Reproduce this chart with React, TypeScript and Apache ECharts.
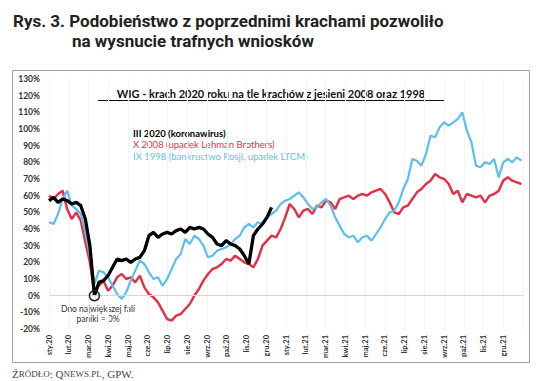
import React, { useEffect, useRef } from "react";
import * as echarts from "echarts";

const MONTHS = ["sty", "lut", "mar", "kwi", "maj", "cze", "lip", "sie", "wrz", "paź", "lis", "gru"];
const Y_TICKS_MIN = -20;
const Y_TICKS_MAX = 130;

// weekly samples starting January 2020 (index = week number), values in %
const covid2020 = [
  57, 59, 56, 58, 57, 55, 56, 54, 46, 30, 0, 8, 9, 12, 17, 22, 21, 22, 20, 22,
  23, 27, 36, 38, 35, 37, 38, 37, 39, 40, 38, 41, 40, 41, 40, 37, 35, 31, 30, 33,
  31, 30, 28, 24, 19, 36, 40, 43, 47, 53,
];
const lehman2008 = [
  60, 58, 61, 63, 52, 46, 50, 45, 32, 20, 2, 6, 9, 3, 6, 11, 13, 10, 11, 8,
  12, 5, 1, -1, -4, -9, -14, -15, -12, -11, -8, -5, 0, 4, 9, 13, 16, 17, 19, 22,
  21, 24, 22, 20, 19, 17, 22, 30, 33, 36, 35, 40, 47, 55, 52, 47, 51, 52, 49, 54,
  53, 57, 56, 52, 58, 59, 60, 58, 60, 61, 60, 62, 63, 64, 61, 56, 50, 49, 53, 54,
  58, 62, 64, 67, 69, 73, 71, 70, 67, 61, 63, 56, 61, 60, 59, 60, 56, 60, 61, 63,
  69, 71, 69, 68, 67,
];
const russia1998 = [
  44, 43, 49, 58, 63, 54, 52, 49, 38, 24, 7, 15, 14, 11, 6, 1, -2, 2, 9, 15,
  21, 19, 14, 10, 11, 6, 10, 16, 22, 25, 34, 31, 36, 34, 30, 23, 24, 27, 28, 29,
  31, 34, 36, 41, 43, 41, 44, 43, 47, 49, 51, 55, 57, 58, 60, 62, 59, 55, 52, 53,
  56, 58, 54, 47, 42, 37, 35, 36, 32, 35, 36, 33, 37, 41, 46, 50, 51, 56, 64, 70,
  82, 81, 78, 85, 96, 95, 101, 104, 102, 104, 106, 110, 99, 92, 78, 77, 80, 79, 82, 71,
  80, 82, 80, 83, 81,
];

const WEEK = 7 / 30.4375; // one week expressed in months on the x axis
const toPts = (arr: number[]) => arr.map((v, i) => [i * WEEK, v]);

export default function App() {
  const ref = useRef<HTMLDivElement>(null);
  useEffect(() => {
    if (!ref.current) return;
    const chart = echarts.init(ref.current, undefined, { renderer: "svg" });
    const axisFont = "Lato";
    chart.setOption({
      animation: false,
      backgroundColor: "#ffffff",
      grid: { left: 49, right: 13, top: 79, bottom: 52, containLabel: false },
      xAxis: {
        type: "value",
        min: 0,
        max: 24,
        interval: 1,
        axisLine: { show: false },
        axisTick: { show: false },
        splitLine: { show: true, lineStyle: { color: "#f3f3f3", width: 1 } },
        axisLabel: {
          rotate: 90,
          margin: 6,
          fontSize: 7.5,
          fontWeight: "bold",
          color: "#333",
          fontFamily: axisFont,
          hideOverlap: false,
          showMinLabel: true,
          showMaxLabel: false,
          formatter: (v: number) => {
            const k = Math.round(v);
            if (k > 23) return "";
            return MONTHS[k % 12] + "." + (20 + Math.floor(k / 12));
          },
        },
      },
      yAxis: {
        type: "value",
        min: Y_TICKS_MIN,
        max: Y_TICKS_MAX,
        interval: 10,
        axisLine: { show: false },
        axisTick: { show: false },
        splitLine: { show: false },
        axisLabel: {
          margin: 9,
          fontSize: 8.5,
          fontWeight: "bold",
          color: "#333",
          fontFamily: axisFont,
          formatter: (v: number) => v + "%",
        },
      },
      series: [
        {
          name: "X 2008 (upadek Lehman Brothers)",
          type: "line",
          data: toPts(lehman2008),
          showSymbol: false,
          lineStyle: { color: "#e2324a", width: 2.5 },
          markLine: {
            silent: true,
            symbol: "none",
            label: { show: false },
            lineStyle: { color: "#d6d6d6", width: 1, type: "solid" },
            data: [{ yAxis: 0 }],
          },
        },
        {
          name: "IX 1998 (bankructwo Rosji, upadek LTCM)",
          type: "line",
          data: toPts(russia1998),
          showSymbol: false,
          lineStyle: { color: "#5bbfe7", width: 2.2 },
        },
        {
          name: "III 2020 (koronawirus)",
          type: "line",
          data: toPts(covid2020),
          showSymbol: false,
          lineStyle: { color: "#000000", width: 3.3 },
          markPoint: {
            symbol: "circle",
            symbolSize: 10,
            itemStyle: { color: "rgba(255,255,255,0)", borderColor: "#222", borderWidth: 1.5 },
            label: { show: false },
            data: [{ coord: [10 * WEEK, 0] }],
          },
        },
      ],
      graphic: [
        {
          type: "rect",
          shape: { x: 12.5, y: 70.5, width: 517, height: 292 },
          style: { fill: "none", stroke: "#a0a0a0", lineWidth: 1 },
          silent: true,
        },
        {
          type: "text",
          left: 13,
          top: 12,
          style: {
            text: "Rys. 3. Podobieństwo z poprzednimi krachami pozwoliło",
            font: "bold 17px Roboto",
            fill: "#222",
          },
        },
        {
          type: "text",
          left: 72,
          top: 32,
          style: {
            text: "na wysnucie trafnych wniosków",
            font: "bold 17px Roboto",
            fill: "#222",
          },
        },
        {
          type: "text",
          x: 271,
          y: 93,
          style: {
            text: "WIG - krach 2020 roku na tle krachów z jesieni 2008 oraz 1998",
            font: "bold 11px Lato",
            fill: "#111",
            align: "center",
            verticalAlign: "middle",
          },
        },
        {
          type: "line",
          shape: { x1: 98, y1: 100.5, x2: 444, y2: 100.5 },
          style: { stroke: "#111", lineWidth: 1 },
        },
        {
          type: "text",
          x: 133,
          y: 133,
          style: {
            text: "III 2020 (koronawirus)",
            font: "bold 9.5px Lato",
            fill: "#000",
            verticalAlign: "middle",
          },
        },
        {
          type: "text",
          x: 133,
          y: 144.5,
          style: {
            text: "X 2008 (upadek Lehman Brothers)",
            font: "9.5px Lato",
            fill: "#e2324a",
            verticalAlign: "middle",
          },
        },
        {
          type: "text",
          x: 133,
          y: 156,
          style: {
            text: "IX 1998 (bankructwo Rosji, upadek LTCM)",
            font: "9.5px Lato",
            fill: "#5bbfe7",
            verticalAlign: "middle",
          },
        },
        {
          type: "text",
          x: 98,
          y: 309,
          style: {
            text: "Dno największej fali",
            font: "8.5px Lato",
            fill: "#333",
            align: "center",
            verticalAlign: "middle",
          },
        },
        {
          type: "text",
          x: 98,
          y: 319,
          style: {
            text: "paniki = 0%",
            font: "8.5px Lato",
            fill: "#333",
            align: "center",
            verticalAlign: "middle",
          },
        },
        {
          type: "text",
          x: 12,
          y: 374,
          style: {
            text: "{a|Ź}{b|RÓDŁO}{a|: Q}{b|NEWS.PL}{a|, GPW.}",
            verticalAlign: "middle",
            rich: {
              a: { fontFamily: "Liberation Serif", fontSize: 11, fill: "#444" },
              b: { fontFamily: "Liberation Serif", fontSize: 9, fill: "#444" },
            },
          },
        },
      ],
    });
    return () => chart.dispose();
  }, []);
  return (
    <div
      ref={ref}
      style={{ position: "absolute", left: 0, top: 0, width: 536, height: 381, background: "#fff" }}
    />
  );
}
